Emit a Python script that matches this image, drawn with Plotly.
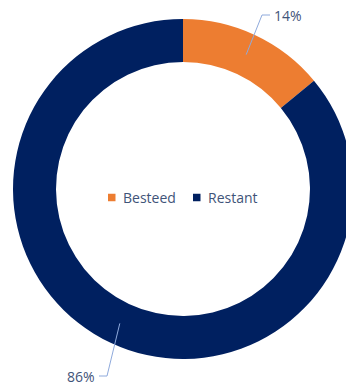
import math
import plotly.graph_objects as go

# Budget split
labels = ["Besteed", "Restant"]
values = [14, 86]
colors = ["#ED7D31", "#002060"]

# Canvas and ring geometry (pixels)
W, H = 360, 385
cx, cy = 183, 189
r_out = 170
hole = 0.747
r_mid = r_out * (1 + hole) / 2

# Where each percentage label sits (elbow of its leader line)
label_pos = [(262, 15), (107, 376)]
tick_len = 8
text_color = "#3F5479"
leader_color = "#8FAADC"
font_family = "Open Sans"

fig = go.Figure()
fig.add_trace(go.Pie(
    labels=labels,
    values=values,
    marker=dict(colors=colors, line=dict(width=0)),
    hole=hole,
    sort=False,
    direction="clockwise",
    rotation=0,
    textinfo="none",
    showlegend=False,
    domain=dict(
        x=[(cx - r_out) / W, (cx + r_out) / W],
        y=[(H - cy - r_out) / H, (H - cy + r_out) / H],
    ),
))

# Invisible pixel-space axes for leader lines and the legend
fig.update_xaxes(range=[0, W], visible=False, fixedrange=True)
fig.update_yaxes(range=[H, 0], visible=False, fixedrange=True)

total = sum(values)
start = 0.0
for v, (ex, ey) in zip(values, label_pos):
    mid = math.radians((start + v / 2) / total * 360)
    start += v
    px = cx + r_mid * math.sin(mid)
    py = cy - r_mid * math.cos(mid)
    side = 1 if math.sin(mid) >= 0 else -1
    tx = ex + side * tick_len
    fig.add_shape(
        type="path",
        path=f"M{px:.1f},{py:.1f} L{ex:.1f},{ey:.1f} L{tx:.1f},{ey:.1f}",
        xref="x", yref="y",
        line=dict(color=leader_color, width=1),
    )
    fig.add_annotation(
        x=tx + side * 3, y=ey, xref="x", yref="y",
        text=f"{round(v / total * 100)}%",
        showarrow=False, borderpad=0,
        xanchor="left" if side > 0 else "right", yanchor="middle",
        font=dict(family=font_family, size=14, color=text_color),
    )

# Legend in the hole: swatch + label per category
legend_y = 197.5
swatch = 7.5
legend_x = [108, 193]
for lab, col, lx in zip(labels, colors, legend_x):
    fig.add_shape(
        type="rect", xref="x", yref="y",
        x0=lx, x1=lx + swatch,
        y0=legend_y - swatch / 2, y1=legend_y + swatch / 2,
        fillcolor=col, line=dict(width=0),
    )
    fig.add_annotation(
        x=lx + swatch + 5, y=legend_y, xref="x", yref="y",
        text=lab, showarrow=False,
        xanchor="left", yanchor="middle",
        font=dict(family=font_family, size=14, color=text_color),
    )

fig.update_layout(
    width=W, height=H,
    margin=dict(l=0, r=0, t=0, b=0),
    paper_bgcolor="white", plot_bgcolor="white",
    showlegend=False,
)

fig.write_html(
    "out.html",
    post_script="document.body.style.overflow='hidden';document.documentElement.style.overflow='hidden';",
)
